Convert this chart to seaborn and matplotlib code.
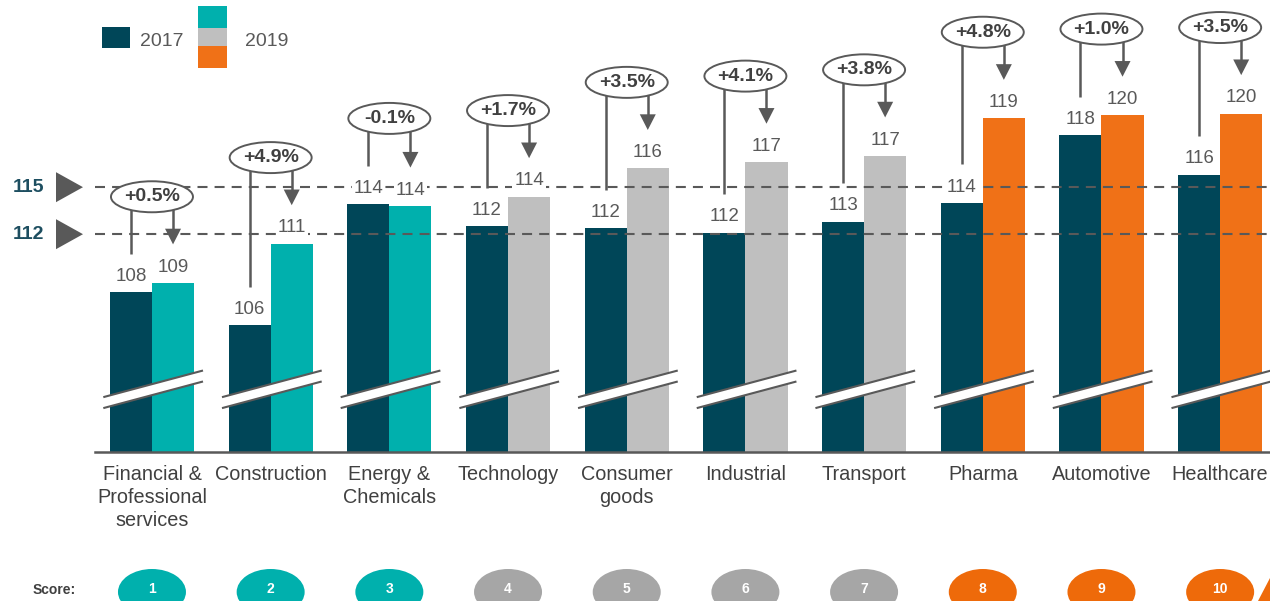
import numpy as np
import pandas as pd
import matplotlib
matplotlib.use("Agg")
import matplotlib.pyplot as plt
import matplotlib.transforms as mtrans
from matplotlib.patches import Ellipse, Polygon, Rectangle
import seaborn as sns

# ---------------- data ----------------
categories = ["Financial &\nProfessional\nservices", "Construction", "Energy &\nChemicals",
              "Technology", "Consumer\ngoods", "Industrial", "Transport",
              "Pharma", "Automotive", "Healthcare"]
values_2017 = [108.3, 106.2, 113.9, 112.5, 112.4, 112.1, 112.8, 114.0, 118.3, 115.8]
values_2019 = [108.9, 111.4, 113.8, 114.4, 116.2, 116.6, 117.0, 119.4, 119.6, 119.7]
labels_2017 = [108, 106, 114, 112, 112, 112, 113, 114, 118, 116]
labels_2019 = [109, 111, 114, 114, 116, 117, 117, 119, 120, 120]
changes = ["+0.5%", "+4.9%", "-0.1%", "+1.7%", "+3.5%", "+4.1%", "+3.8%", "+4.8%", "+1.0%", "+3.5%"]
scores = [1, 2, 3, 4, 5, 6, 7, 8, 9, 10]
score_groups = ["teal", "teal", "teal", "gray", "gray", "gray", "gray", "orange", "orange", "orange"]
years = ["2017", "2019"]
reference_levels = [115, 112]

# ---------------- style ----------------
DARK = "#004658"
BAR_COLORS = {"teal": "#00B0AD", "gray": "#BFBFBF", "orange": "#F07117"}
CIRCLE_COLORS = {"teal": "#00B0AD", "gray": "#A6A6A6", "orange": "#EE6A0A"}
LINE = "#595959"
TEXT = "#595959"
DARKTEXT = "#404040"

sns.set_theme(style="white")
plt.rcParams["font.family"] = ["Liberation Sans", "DejaVu Sans"]

W, H = 1270, 601
fig = plt.figure(figsize=(W / 100, H / 100), dpi=100)
ax = fig.add_axes([95 / W, 149 / H, 1175 / W, 452 / H])

df = pd.DataFrame({
    "category": categories * 2,
    "value": values_2017 + values_2019,
    "year": [years[0]] * len(categories) + [years[1]] * len(categories),
})

BAR_W = 0.71
sns.barplot(data=df, x="category", y="value", hue="year", order=categories,
            hue_order=years, palette=[DARK, "#00B0AD"], width=BAR_W, dodge=True,
            legend=False, linewidth=0, saturation=1, ax=ax, zorder=2)

for bar in ax.containers[0]:
    bar.set_facecolor(DARK)
for bar, g in zip(ax.containers[1], score_groups):
    bar.set_facecolor(BAR_COLORS[g])

# y scale: 15.67 px per unit
PXU = 15.67
ax.set_ylim(98.1, 98.1 + 452 / PXU)
ax.set_xlim(-0.48, 9.42)
ax.set_xlabel("")
ax.set_ylabel("")
ax.set_xticks([])
ax.set_yticks([])
for s in ["top", "left", "right"]:
    ax.spines[s].set_visible(False)
ax.spines["bottom"].set_color(LINE)
ax.spines["bottom"].set_linewidth(1.8)
ax.spines["bottom"].set_zorder(6)

# reference dashed lines
for lvl in reference_levels:
    ax.axhline(lvl, color=LINE, lw=1.5, ls=(0, (4.8, 3.4)), zorder=3)

# break marks
for i in range(len(categories)):
    xl, xr = i - 0.41, i + 0.43
    lo_l, lo_r, up_l, up_r = 100.9, 102.6, 101.6, 103.3
    ax.add_patch(Polygon([(xl, lo_l), (xr, lo_r), (xr, up_r), (xl, up_l)],
                         closed=True, facecolor="white", edgecolor="none", zorder=4))
    ax.plot([xl, xr], [lo_l, lo_r], color=LINE, lw=1.5, zorder=5, solid_capstyle="butt")
    ax.plot([xl, xr], [up_l, up_r], color=LINE, lw=1.5, zorder=5, solid_capstyle="butt")

off = BAR_W / 4
for i in range(len(categories)):
    v1, v2 = values_2017[i], values_2019[i]
    # value labels
    ax.text(i - off, v1 + 1.0, str(labels_2017[i]), ha="center", va="center",
            fontsize=13.5, color=TEXT, zorder=7,
            bbox=dict(boxstyle="square,pad=0.1", fc="white", ec="none"))
    ax.text(i + off, v2 + 1.0, str(labels_2019[i]), ha="center", va="center",
            fontsize=13.5, color=TEXT, zorder=7,
            bbox=dict(boxstyle="square,pad=0.1", fc="white", ec="none"))
    # bubble + connectors
    ey = max(v1, v2) + 86 / PXU
    ax.plot([i - off, i - off], [ey, v1 + 2.45], color=LINE, lw=1.8, zorder=8,
            solid_capstyle="butt")
    tip = v2 + 2.45
    ax.plot([i + off, i + off], [ey, tip + 0.9], color=LINE, lw=1.8, zorder=8,
            solid_capstyle="butt")
    hw = 8 / 118.7
    ax.add_patch(Polygon([(i + off - hw, tip + 1.0), (i + off + hw, tip + 1.0), (i + off, tip)],
                         closed=True, facecolor=LINE, edgecolor="none", zorder=8))
    ax.add_patch(Ellipse((i, ey), width=82 / 118.7, height=31 / PXU, facecolor="white",
                         edgecolor=LINE, lw=1.4, zorder=9))
    ax.text(i, ey, changes[i], ha="center", va="center", fontsize=14, fontweight="bold",
            color=DARKTEXT, zorder=10)

# category labels
tr_xfig = mtrans.blended_transform_factory(ax.transData, fig.transFigure)
for i, c in enumerate(categories):
    ax.text(i, 1 - 465 / H, c, transform=tr_xfig, ha="center", va="top",
            fontsize=14.3, color=DARKTEXT, linespacing=1.25, clip_on=False)

# score row
fig.text(33 / W, 1 - 590 / H, "Score:", ha="left", va="center", fontsize=10,
         fontweight="bold", color=DARKTEXT)
for i, (s, g) in enumerate(zip(scores, score_groups)):
    e = Ellipse((i, 1 - 592 / H), width=68 / 118.7, height=46 / H, transform=tr_xfig,
                facecolor=CIRCLE_COLORS[g], edgecolor="none", clip_on=False)
    ax.add_patch(e)
    ax.text(i, 1 - 589 / H, str(s), transform=tr_xfig, ha="center", va="center",
            fontsize=10, fontweight="bold", color="white", clip_on=False)
fig.add_artist(Polygon([(1258 / W, 0), (1270 / W, 1 - 578 / H), (1270 / W, 0)],
                       closed=True, transform=fig.transFigure,
                       facecolor=CIRCLE_COLORS["orange"], edgecolor="none"))

# reference level markers on the left
tr_yfig = mtrans.blended_transform_factory(fig.transFigure, ax.transData)
for lvl in reference_levels:
    ax.text(28 / W, lvl, str(lvl), transform=tr_yfig, ha="center", va="center",
            fontsize=14, fontweight="bold", color="#1D4E60", clip_on=False)
    hh = 15 / PXU
    ax.add_patch(Polygon([(56 / W, lvl - hh), (56 / W, lvl + hh), (83 / W, lvl)],
                         closed=True, transform=tr_yfig, facecolor=LINE,
                         edgecolor="none", clip_on=False))

# legend
def fig_rect(x0, y0, x1, y1, color):
    fig.add_artist(Rectangle((x0 / W, 1 - y1 / H), (x1 - x0) / W, (y1 - y0) / H,
                             transform=fig.transFigure, facecolor=color, edgecolor="none"))

fig_rect(102, 27, 130, 48, DARK)
fig.text(140 / W, 1 - 41 / H, years[0], ha="left", va="center", fontsize=14, color=TEXT)
fig_rect(198, 6, 227, 28, BAR_COLORS["teal"])
fig_rect(198, 28, 227, 46, BAR_COLORS["gray"])
fig_rect(198, 46, 227, 68, BAR_COLORS["orange"])
fig.text(245 / W, 1 - 41 / H, years[1], ha="left", va="center", fontsize=14, color=TEXT)

fig.savefig("out.png", dpi=100)
